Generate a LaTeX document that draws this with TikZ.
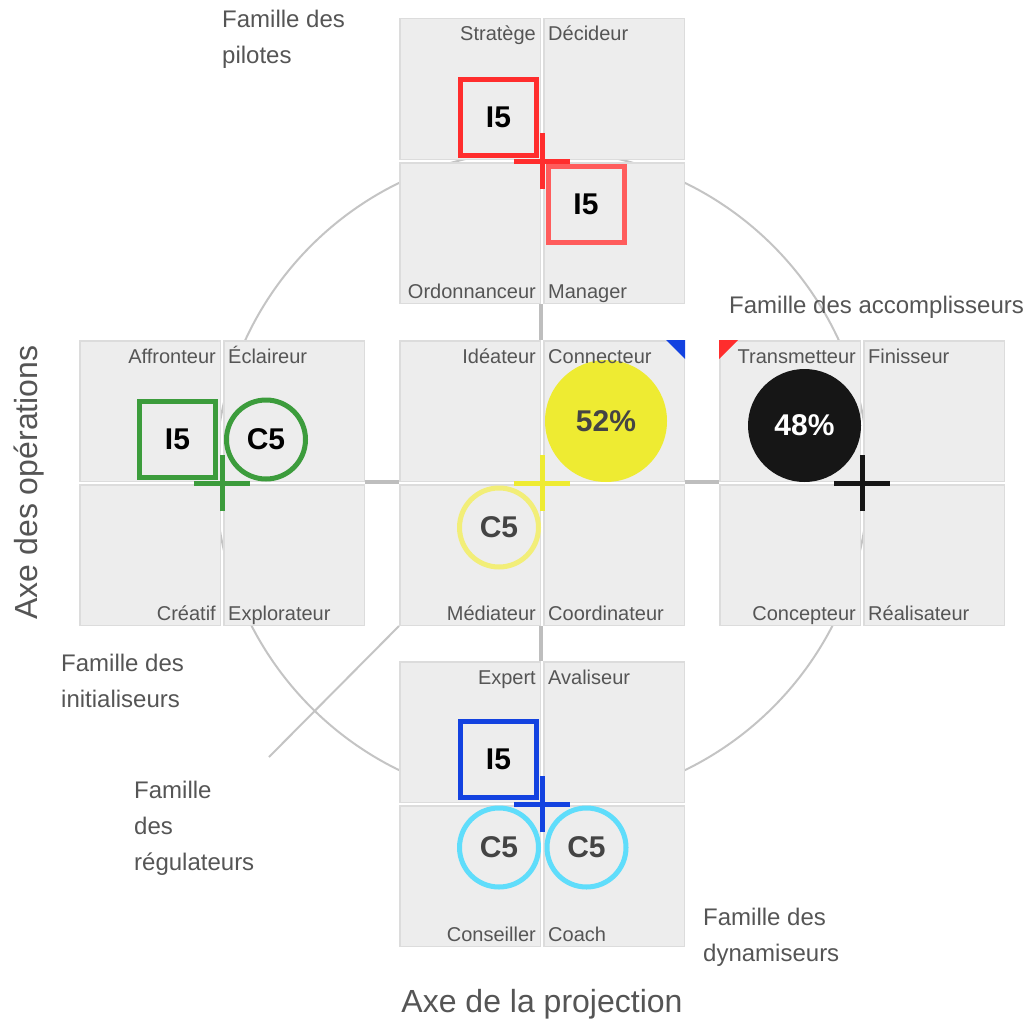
\documentclass[tikz,border=0pt]{standalone}
\usepackage{fontspec}
\setmainfont{Liberation Sans}
\usetikzlibrary{positioning}
\definecolor{cellColor}{RGB}{237,237,237}
\definecolor{cellBorderColor}{RGB}{220,220,220}
\definecolor{textColor}{RGB}{85,85,85}
\definecolor{liaisonColor}{RGB}{190,190,190}
\definecolor{cercleColor}{RGB}{196,196,196}
\definecolor{rougeColor}{RGB}{255,45,45}
\definecolor{rougeClairColor}{RGB}{255,92,92}
\definecolor{vertColor}{RGB}{60,156,60}
\definecolor{jauneColor}{RGB}{238,235,50}
\definecolor{jauneClairColor}{RGB}{242,238,120}
\definecolor{noirColor}{RGB}{22,22,22}
\definecolor{bleuColor}{RGB}{19,66,224}
\definecolor{cyanColor}{RGB}{95,221,251}
\definecolor{chiffreColor}{RGB}{68,68,68}
\tikzset{cell/.style={fill=cellColor, draw=cellBorderColor, line width=1.5pt, minimum size=140.5pt, inner sep=0pt}}
\tikzset{role/.style={font=\fontsize{20}{24}\selectfont, text=textColor, inner sep=0pt}}
\tikzset{roleNE/.style={role, anchor=base east, xshift=-5pt, yshift=-23pt}}
\tikzset{roleNW/.style={role, anchor=base west, xshift=5pt, yshift=-23pt}}
\tikzset{roleSE/.style={role, anchor=base east, xshift=-5pt, yshift=6pt}}
\tikzset{roleSW/.style={role, anchor=base west, xshift=5pt, yshift=6pt}}
\tikzset{famille/.style={font=\fontsize{24}{36}\selectfont, text=textColor, inner sep=0pt, align=left, anchor=base west}}
\tikzset{axe/.style={font=\fontsize{32}{38}\selectfont, text=textColor, inner sep=0pt, anchor=base}}
\tikzset{marque/.style={font=\bfseries\fontsize{30}{36}\selectfont, line width=5pt, minimum size=76pt, inner sep=0pt}}
\tikzset{carre/.style={marque, rectangle, draw}}
\tikzset{rond/.style={marque, circle, draw, minimum size=79pt}}
\tikzset{disque/.style={marque, circle, draw=none}}
\tikzset{croix/.style={line width=5pt}}
\tikzset{liaison/.style={draw=liaisonColor, line width=4pt}}
\tikzset{cercle/.style={draw=cercleColor, line width=2pt}}

\begin{document}
\begin{tikzpicture}[x=1pt, y=-1pt, node distance=1pt and 1pt]
\pgfdeclarelayer{background}
\pgfsetlayers{background,main}
\useasboundingbox (0,0) rectangle (1027,1022);

% Blocs
\coordinate (Pilotes) at (542,161);
\coordinate (Initialiseurs) at (222,483);
\coordinate (Centre) at (542,483);
\coordinate (Accomplisseurs) at (862,483);
\coordinate (Dynamiseurs) at (542,804);
\coordinate (Regulateurs) at (269,757);

    \node (Stratege) [cell, above left=of Pilotes] {};
    \node (Decideur) [cell, above right=of Pilotes] {};
    \node (Ordonnanceur) [cell, below left=of Pilotes] {};
    \node (Manager) [cell, below right=of Pilotes] {};

    \node (Affronteur) [cell, above left=of Initialiseurs] {};
    \node (Eclaireur) [cell, above right=of Initialiseurs] {};
    \node (Creatif) [cell, below left=of Initialiseurs] {};
    \node (Explorateur) [cell, below right=of Initialiseurs] {};

    \node (Ideateur) [cell, above left=of Centre] {};
    \node (Connecteur) [cell, above right=of Centre] {};
    \node (Mediateur) [cell, below left=of Centre] {};
    \node (Coordinateur) [cell, below right=of Centre] {};

    \node (Transmetteur) [cell, above left=of Accomplisseurs] {};
    \node (Finisseur) [cell, above right=of Accomplisseurs] {};
    \node (Concepteur) [cell, below left=of Accomplisseurs] {};
    \node (Realisateur) [cell, below right=of Accomplisseurs] {};

    \node (Expert) [cell, above left=of Dynamiseurs] {};
    \node (Avaliseur) [cell, above right=of Dynamiseurs] {};
    \node (Conseiller) [cell, below left=of Dynamiseurs] {};
    \node (Coach) [cell, below right=of Dynamiseurs] {};

\begin{pgfonlayer}{background}
    \draw [cercle] ([yshift=6.5pt]Centre) circle (326.5pt);
    \draw [cercle] (Mediateur.south west) -- (Regulateurs);
    \draw [liaison] (Ordonnanceur.south east) -- (Ideateur.north east);
    \draw [liaison] (Mediateur.south east) -- (Expert.north east);
    \draw [liaison] (Eclaireur.south east) -- (Ideateur.south west);
    \draw [liaison] (Connecteur.south east) -- (Transmetteur.south west);
\end{pgfonlayer}

% Marques
    \node (PilotesI) [carre, draw=rougeColor] at (498.5,117.5) {I5};
    \node (PilotesII) [carre, draw=rougeClairColor] at (586,204) {I5};
    \draw [croix, rougeColor] (Pilotes) +(-28,0) -- +(28,0) (Pilotes) +(0,-28) -- +(0,28);

    \node (InitialiseursI) [carre, draw=vertColor] at (177.5,439.5) {I5};
    \node (InitialiseursC) [rond, draw=vertColor] at (266,439.5) {C5};
    \draw [croix, vertColor] (Initialiseurs) +(-28,0) -- +(28,0) (Initialiseurs) +(0,-28) -- +(0,28);

    \node (CentrePart) [disque, fill=jauneColor, text=chiffreColor, minimum size=122pt] at (606,421) {52\%};
    \node (CentreC) [rond, draw=jauneClairColor, text=chiffreColor] at (499,527.5) {C5};
    \draw [croix, jauneColor] (Centre) +(-28,0) -- +(28,0) (Centre) +(0,-28) -- +(0,28);
    \fill [bleuColor] (Connecteur.north east) -- +(-19,0) -- +(0,19) -- cycle;

    \node (AccomplisseursPart) [disque, fill=noirColor, text=white, minimum size=113pt] at (804.5,425.5) {48\%};
    \draw [croix, noirColor] (Accomplisseurs) +(-28,0) -- +(28,0) (Accomplisseurs) +(0,-28) -- +(0,28);
    \fill [rougeColor] (Transmetteur.north west) -- +(19,0) -- +(0,19) -- cycle;

    \node (DynamiseursI) [carre, draw=bleuColor] at (498.5,759.5) {I5};
    \node (DynamiseursC) [rond, draw=cyanColor, text=chiffreColor] at (499,847.5) {C5};
    \node (DynamiseursCII) [rond, draw=cyanColor, text=chiffreColor] at (586.5,847.5) {C5};
    \draw [croix, bleuColor] (Dynamiseurs) +(-28,0) -- +(28,0) (Dynamiseurs) +(0,-28) -- +(0,28);

% Roles
    \node (tStratege) [roleNE] at (Stratege.north east) {Stratège};
    \node (tDecideur) [roleNW] at (Decideur.north west) {Décideur};
    \node (tOrdonnanceur) [roleSE] at (Ordonnanceur.south east) {Ordonnanceur};
    \node (tManager) [roleSW] at (Manager.south west) {Manager};

    \node (tAffronteur) [roleNE] at (Affronteur.north east) {Affronteur};
    \node (tEclaireur) [roleNW] at (Eclaireur.north west) {Éclaireur};
    \node (tCreatif) [roleSE] at (Creatif.south east) {Créatif};
    \node (tExplorateur) [roleSW] at (Explorateur.south west) {Explorateur};

    \node (tIdeateur) [roleNE] at (Ideateur.north east) {Idéateur};
    \node (tConnecteur) [roleNW] at (Connecteur.north west) {Connecteur};
    \node (tMediateur) [roleSE] at (Mediateur.south east) {Médiateur};
    \node (tCoordinateur) [roleSW] at (Coordinateur.south west) {Coordinateur};

    \node (tTransmetteur) [roleNE] at (Transmetteur.north east) {Transmetteur};
    \node (tFinisseur) [roleNW] at (Finisseur.north west) {Finisseur};
    \node (tConcepteur) [roleSE] at (Concepteur.south east) {Concepteur};
    \node (tRealisateur) [roleSW] at (Realisateur.south west) {Réalisateur};

    \node (tExpert) [roleNE] at (Expert.north east) {Expert};
    \node (tAvaliseur) [roleNW] at (Avaliseur.north west) {Avaliseur};
    \node (tConseiller) [roleSE] at (Conseiller.south east) {Conseiller};
    \node (tCoach) [roleSW] at (Coach.south west) {Coach};

% Familles et axes (base = derniere ligne)
    \node (FamPilotes) [famille] at (222,64) {Famille des\\pilotes};
    \node (FamAccomplisseurs) [famille] at (729,313) {Famille des accomplisseurs};
    \node (FamInitialiseurs) [famille] at (61,707) {Famille des\\initialiseurs};
    \node (FamRegulateurs) [famille] at (134,870) {Famille\\des\\régulateurs};
    \node (FamDynamiseurs) [famille] at (703,961) {Famille des\\dynamiseurs};

    \node (AxeProjection) [axe] at (542,1012) {Axe de la projection};
    \node (AxeOperations) [axe, rotate=90] at (37,482.5) {Axe des opérations};

\end{tikzpicture}
\end{document}
